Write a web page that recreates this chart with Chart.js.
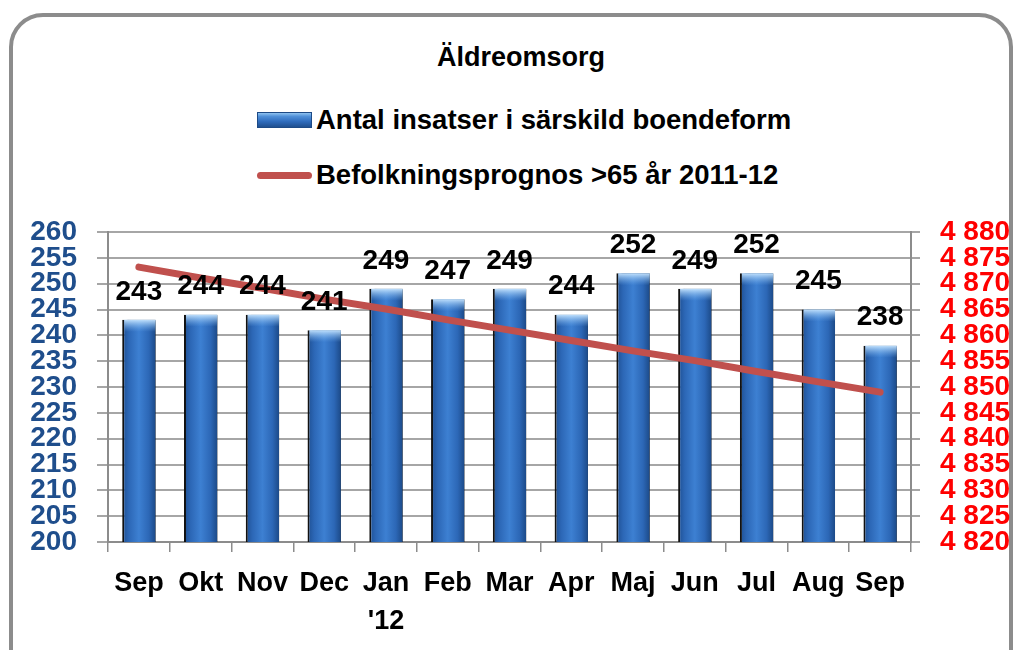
<!DOCTYPE html>
<html lang="sv">
<head>
<meta charset="utf-8">
<title>Äldreomsorg</title>
<script src="https://cdn.jsdelivr.net/npm/chart.js@4.4.0/dist/chart.umd.min.js"></script>
<style>
  html, body { margin: 0; padding: 0; background: #fff; }
  body {
    width: 1017px; height: 650px; position: relative; overflow: hidden;
    font-family: 'Liberation Sans', Arial, sans-serif; color: #000;
  }
  .frame {
    position: absolute; left: 9px; top: 13px; width: 996px; height: 720px;
    border: 4px solid #8c8c8c; border-radius: 34px;
  }
  .title {
    position: absolute; left: 0; top: 38px; width: 1042px; line-height: 38px;
    text-align: center; font-weight: bold; font-size: 27px;
  }
  .leg {
    position: absolute; left: 257px; height: 38px; display: flex; align-items: center;
    font-weight: bold; font-size: 27.5px; white-space: nowrap;
  }
  .leg .sw { width: 55px; height: 16px; margin-right: 4px; }
  .leg .bar {
    background: linear-gradient(to bottom, #8fc2f0 0%, #4f8fd8 25%, #2f6cbd 60%, #1f4f8f 100%);
    border: 1px solid #1d4a86; box-sizing: border-box;
  }
  .leg .line { height: 7px; border-radius: 4px; background: #c0504d; }
  canvas { position: absolute; left: 0; top: 0; }
</style>
</head>
<body>
<div class="frame"></div>
<div class="title">Äldreomsorg</div>
<div class="leg" style="top:101px"><span class="sw bar"></span><span>Antal insatser i särskild boendeform</span></div>
<div class="leg" style="top:156px"><span class="sw line"></span><span>Befolkningsprognos &gt;65 år 2011-12</span></div>
<canvas id="chart" width="1017" height="650"></canvas>
<script>
// Äldreomsorg: insatser (staplar, vänster axel) mot befolkningsprognos (linje, höger axel)

const FONT = "'Liberation Sans', Arial, sans-serif";

const months = ['Sep', 'Okt', 'Nov', 'Dec', ['Jan', "'12"], 'Feb', 'Mar', 'Apr', 'Maj', 'Jun', 'Jul', 'Aug', 'Sep'];
const insatser = [243, 244, 244, 241, 249, 247, 249, 244, 252, 249, 252, 245, 238];
const prognos = [4873.2, 4871.1, 4869.1, 4867.0, 4865.1, 4863.0, 4861.0, 4859.0, 4857.0, 4855.1, 4853.0, 4851.0, 4849.0];

const leftTicks = { min: 200, max: 260, step: 5 };
const rightTicks = { min: 4820, max: 4880, step: 5 };

const BAR_PCT = 0.54;

function fmt(v) {
  return new Intl.NumberFormat('sv-SE').format(v);
}

// stapelns blå toning, räknad per stapel från x-skalan
function barFill(context) {
  const chart = context.chart;
  const area = chart.chartArea;
  if (!area || context.type !== 'data') return '#3573c4';
  const x = chart.scales.x.getPixelForValue(context.dataIndex);
  const w = (area.right - area.left) / months.length * BAR_PCT;
  const g = chart.ctx.createLinearGradient(x - w / 2, 0, x + w / 2, 0);
  g.addColorStop(0, '#1e4f92');
  g.addColorStop(0.2, '#2c67b6');
  g.addColorStop(0.5, '#3d80d2');
  g.addColorStop(0.8, '#2c67b6');
  g.addColorStop(1, '#1c4a88');
  return g;
}

const barShadow = {
  id: 'barShadow',
  beforeDatasetDraw(chart, args) {
    if (args.index !== 0) return;
    const c = chart.ctx;
    c.save();
    c.shadowColor = 'rgba(0,0,0,0.85)';
    c.shadowBlur = 2;
    c.shadowOffsetX = 5;
  },
  afterDatasetDraw(chart, args) {
    if (args.index !== 0) return;
    const c = chart.ctx;
    c.restore();
    // ljus topp på staplarna
    chart.getDatasetMeta(0).data.forEach(bar => {
      const g = c.createLinearGradient(0, bar.y, 0, bar.y + 12);
      g.addColorStop(0, 'rgba(200,230,255,0.95)');
      g.addColorStop(1, 'rgba(120,180,240,0)');
      c.fillStyle = g;
      c.fillRect(bar.x - bar.width / 2 + 2, bar.y, bar.width - 2, 12);
    });
  },
};

const barLabels = {
  id: 'barLabels',
  afterDatasetsDraw(chart) {
    const c = chart.ctx;
    c.save();
    c.font = `bold 28px ${FONT}`;
    c.fillStyle = '#000';
    c.textAlign = 'center';
    c.textBaseline = 'middle';
    chart.getDatasetMeta(0).data.forEach((bar, i) => {
      c.fillText(String(insatser[i]), bar.x, bar.y - 28);
    });
    c.restore();
  },
};

Chart.defaults.font.family = FONT;

new Chart(document.getElementById('chart'), {
  type: 'bar',
  data: {
    labels: months,
    datasets: [
      {
        type: 'bar',
        label: 'Antal insatser i särskild boendeform',
        data: insatser,
        yAxisID: 'y',
        order: 1,
        backgroundColor: barFill,
        borderColor: '#111',
        borderWidth: { left: 2, right: 0, top: 0, bottom: 0 },
        categoryPercentage: 1,
        barPercentage: BAR_PCT,
      },
      {
        type: 'line',
        label: 'Befolkningsprognos >65 år 2011-12',
        data: prognos,
        yAxisID: 'y1',
        order: 0,
        borderColor: '#c0504d',
        borderWidth: 7,
        borderCapStyle: 'round',
        pointRadius: 0,
        tension: 0,
        fill: false,
      },
    ],
  },
  options: {
    responsive: false,
    animation: false,
    layout: { padding: { top: 232 } },
    plugins: {
      legend: { display: false },
      title: { display: false },
      tooltip: { enabled: false },
    },
    scales: {
      x: {
        grid: { offset: true, drawOnChartArea: false, tickLength: 10, color: '#8c8c8c', lineWidth: 1.5 },
        border: { color: '#8c8c8c', width: 2 },
        ticks: {
          color: '#000', padding: 13, maxRotation: 0, autoSkip: false,
          font: { size: 27, weight: 'bold', lineHeight: 1.4 },
        },
        afterFit: s => { s.height = 108; },
      },
      y: {
        position: 'left',
        min: leftTicks.min, max: leftTicks.max,
        ticks: { stepSize: leftTicks.step, autoSkip: false, color: '#1f4e8c', padding: 20, font: { size: 28, weight: 'bold' } },
        grid: { color: '#a6a6a6', lineWidth: 2, tickLength: 11 },
        border: { color: '#8c8c8c', width: 2 },
        afterFit: s => { s.width = 108; },
      },
      y1: {
        position: 'right',
        min: rightTicks.min, max: rightTicks.max,
        ticks: { stepSize: rightTicks.step, autoSkip: false, color: '#ff0000', padding: 20, font: { size: 28, weight: 'bold' }, callback: v => fmt(v) },
        grid: { drawOnChartArea: false, color: '#a6a6a6', lineWidth: 2, tickLength: 9 },
        border: { color: '#8c8c8c', width: 2 },
        afterFit: s => { s.width = 106; },
      },
    },
  },
  plugins: [barShadow, barLabels],
});
</script>
</body>
</html>
